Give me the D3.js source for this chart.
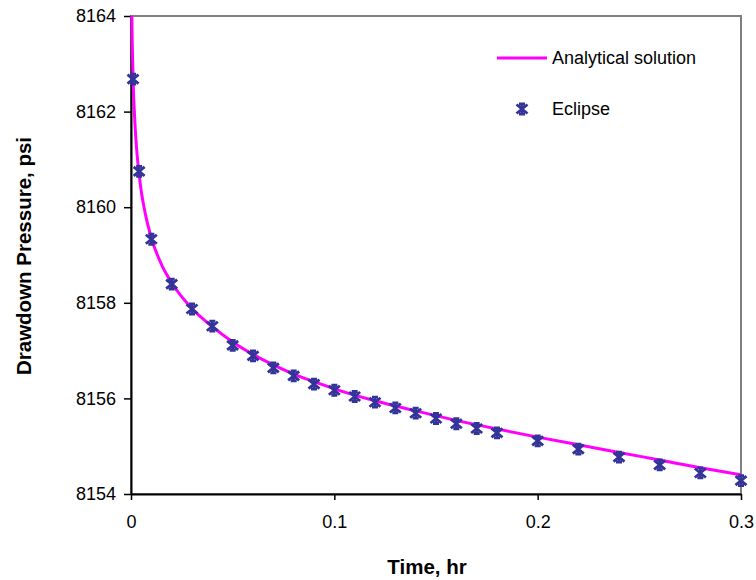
<!DOCTYPE html>
<html>
<head>
<meta charset="utf-8">
<script src="https://cdn.jsdelivr.net/npm/d3@7"></script>
<style>
  html, body { margin: 0; padding: 0; background: #fff; }
  svg { display: block; font-family: Arial, "Liberation Sans", sans-serif; }
</style>
</head>
<body>
<svg id="chart" width="756" height="580"></svg>
<script>
// Eclipse simulation points
const eclipseTime = [0.001, 0.004, 0.01, 0.02, 0.03, 0.04, 0.05, 0.06, 0.07, 0.08, 0.09, 0.1,
  0.11, 0.12, 0.13, 0.14, 0.15, 0.16, 0.17, 0.18, 0.2, 0.22, 0.24, 0.26, 0.28, 0.3];
const eclipsePressure = [8162.68, 8160.75, 8159.33, 8158.39, 8157.87, 8157.51, 8157.11, 8156.89,
  8156.64, 8156.47, 8156.30, 8156.17, 8156.04, 8155.92, 8155.80, 8155.69, 8155.58, 8155.47,
  8155.37, 8155.28, 8155.11, 8154.94, 8154.77, 8154.61, 8154.44, 8154.28];

// Analytical solution curve
const analyticTime = [0.0004, 0.0006, 0.001, 0.0015, 0.002, 0.003, 0.004, 0.005, 0.007, 0.01,
  0.015, 0.02, 0.03, 0.04, 0.05, 0.06, 0.07, 0.08, 0.09, 0.1, 0.12, 0.14, 0.16, 0.18, 0.2,
  0.22, 0.24, 0.26, 0.28, 0.3];
const analyticPressure = [8164.0, 8163.45, 8162.72, 8162.13, 8161.70, 8161.10, 8160.68, 8160.35,
  8159.87, 8159.36, 8158.80, 8158.42, 8157.88, 8157.50, 8157.18, 8156.92, 8156.70, 8156.51,
  8156.35, 8156.20, 8155.95, 8155.74, 8155.54, 8155.36, 8155.19, 8155.03, 8154.87, 8154.71,
  8154.55, 8154.40];

const xTicks = [0, 0.1, 0.2, 0.3];
const yTicks = [8154, 8156, 8158, 8160, 8162, 8164];

const seriesNames = ["Analytical solution", "Eclipse"];

const plot = { left: 131, right: 741, top: 16, bottom: 494 };

const svg = d3.select("#chart");

const x = d3.scaleLinear().domain([0, 0.3]).range([plot.left, plot.right]);
const y = d3.scaleLinear().domain([8154, 8164]).range([plot.bottom, plot.top]);

// plot area border (gray)
svg.append("rect")
  .attr("x", plot.left)
  .attr("y", plot.top)
  .attr("width", plot.right - plot.left)
  .attr("height", plot.bottom - plot.top)
  .attr("fill", "none")
  .attr("stroke", "#808080")
  .attr("stroke-width", 2);

// axes
const yAxis = svg.append("g")
  .attr("transform", `translate(${plot.left},0)`)
  .call(d3.axisLeft(y).tickValues(yTicks).tickFormat(d3.format("d")).tickSize(7).tickSizeOuter(0).tickPadding(8));

const xAxis = svg.append("g")
  .attr("transform", `translate(0,${plot.bottom})`)
  .call(d3.axisBottom(x).tickValues(xTicks).tickFormat(d => d === 0 ? "0" : d3.format(".1f")(d)).tickSize(6).tickSizeOuter(0).tickPadding(15));

[xAxis, yAxis].forEach(g => {
  g.select(".domain").attr("stroke", "#000").attr("stroke-width", 2);
  g.selectAll(".tick line").attr("stroke", "#000").attr("stroke-width", 1.5);
  g.selectAll(".tick text")
    .attr("fill", "#000")
    .style("font-size", "18px")
    .style("font-family", "Arial, 'Liberation Sans', sans-serif");
});

// axis titles
svg.append("text")
  .attr("x", 427)
  .attr("y", 574)
  .attr("text-anchor", "middle")
  .style("font-size", "20.5px")
  .style("font-weight", "bold")
  .text("Time, hr");

svg.append("text")
  .attr("transform", "translate(31,256) rotate(-90)")
  .attr("text-anchor", "middle")
  .style("font-size", "20.5px")
  .style("font-weight", "bold")
  .text("Drawdown Pressure, psi");

// analytical line
const analytic = analyticTime.map((t, i) => [t, analyticPressure[i]]);
const line = d3.line()
  .x(d => x(d[0]))
  .y(d => y(d[1]))
  .curve(d3.curveMonotoneX);

svg.append("path")
  .datum(analytic)
  .attr("d", line)
  .attr("fill", "none")
  .attr("stroke", "#ff00ff")
  .attr("stroke-width", 3);

// star marker (x with vertical bar)
const markerPath = "M-5.5,-4.5L5.5,4.5M-5.5,4.5L5.5,-4.5M0,-5.5L0,5.5M-3,-5L3,-5M-3,5L3,5";
const markerColor = "#333399";

const eclipse = eclipseTime.map((t, i) => [t, eclipsePressure[i]]);
svg.selectAll(".pt")
  .data(eclipse)
  .enter()
  .append("path")
  .attr("class", "pt")
  .attr("transform", d => `translate(${x(d[0])},${y(d[1])})`)
  .attr("d", markerPath)
  .attr("fill", "none")
  .attr("stroke", markerColor)
  .attr("stroke-width", 2.8);

// legend
const legend = svg.append("g");

legend.append("line")
  .attr("x1", 497).attr("x2", 547)
  .attr("y1", 58).attr("y2", 58)
  .attr("stroke", "#ff00ff")
  .attr("stroke-width", 3);

legend.append("path")
  .attr("transform", "translate(522,109)")
  .attr("d", markerPath)
  .attr("fill", "none")
  .attr("stroke", markerColor)
  .attr("stroke-width", 2.8);

legend.selectAll(".legend-text")
  .data(seriesNames)
  .enter()
  .append("text")
  .attr("class", "legend-text")
  .attr("x", 552)
  .attr("y", (d, i) => 58 + i * 51)
  .attr("dy", "0.35em")
  .style("font-size", "18px")
  .text(d => d);
</script>
</body>
</html>
